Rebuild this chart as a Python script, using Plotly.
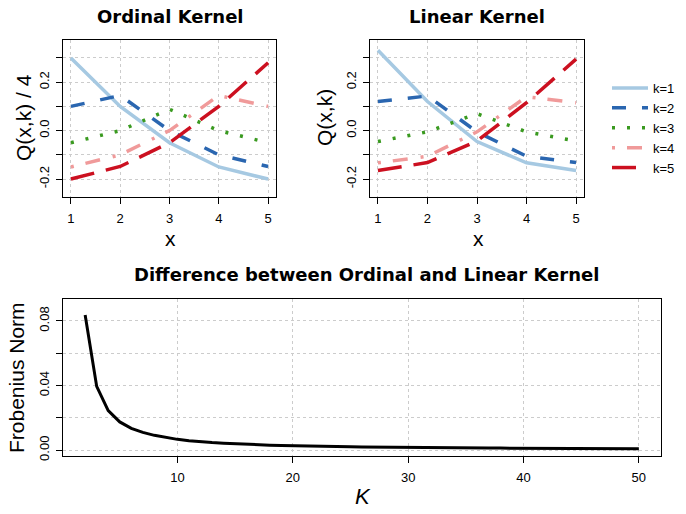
import plotly.graph_objects as go

# values
x_pos = [1, 2, 3, 4, 5]
labels = ['k=1', 'k=2', 'k=3', 'k=4', 'k=5']

ord_k1 = [0.30, 0.10, -0.05, -0.15, -0.20]
ord_k2 = [0.10, 0.145, 0.0, -0.10, -0.148]
ord_k3 = [-0.05, 0.0, 0.088, 0.0, -0.05]
ord_k4 = [-0.15, -0.10, 0.0, 0.145, 0.10]
ord_k5 = [-0.20, -0.148, -0.05, 0.10, 0.28]

lin_k1 = [0.332, 0.12, -0.045, -0.133, -0.165]
lin_k2 = [0.12, 0.143, -0.005, -0.106, -0.132]
lin_k3 = [-0.045, -0.005, 0.07, -0.005, -0.043]
lin_k4 = [-0.133, -0.106, -0.005, 0.14, 0.115]
lin_k5 = [-0.165, -0.132, -0.043, 0.115, 0.295]

K_vals = list(range(2, 51))
frob = [0.0837, 0.0395, 0.0245, 0.0175, 0.0135, 0.0110, 0.0092, 0.0078, 0.0067,
        0.0059, 0.0052, 0.0047, 0.0043, 0.0039, 0.0036, 0.0033, 0.0031, 0.0029,
        0.0027, 0.0026, 0.0024, 0.0023, 0.0022, 0.0021, 0.0020, 0.0019, 0.0018,
        0.0018, 0.0017, 0.0016, 0.0016, 0.0015, 0.0015, 0.0014, 0.0014, 0.0013,
        0.0013, 0.0013, 0.0012, 0.0012, 0.0012, 0.0011, 0.0011, 0.0011, 0.0010,
        0.0010, 0.0010, 0.0010, 0.0009]

colors = ['#a6c9e2', '#2a66b0', '#3a9a20', '#f09a9a', '#cc1020']
dashes = ['solid', '14px,16px', '3px,12px', '3px,12px,15px,13px', '24px,12px']

W, H = 686, 514
FONT = 'Liberation Sans'
TFONT = 'DejaVu Sans'


def px_x(p):
    return p / W


def px_y(p):
    return 1 - p / H


fig = go.Figure()

ordinal = [ord_k1, ord_k2, ord_k3, ord_k4, ord_k5]
linear = [lin_k1, lin_k2, lin_k3, lin_k4, lin_k5]
for i in range(5):
    fig.add_trace(go.Scatter(x=x_pos, y=ordinal[i], mode='lines', name=labels[i],
                             line=dict(color=colors[i], width=3.5, dash=dashes[i]),
                             xaxis='x', yaxis='y', showlegend=False))
for i in range(5):
    fig.add_trace(go.Scatter(x=x_pos, y=linear[i], mode='lines', name=labels[i],
                             line=dict(color=colors[i], width=3.5, dash=dashes[i]),
                             xaxis='x2', yaxis='y2', showlegend=True))
fig.add_trace(go.Scatter(x=K_vals, y=frob, mode='lines', line=dict(color='black', width=3),
                         xaxis='x3', yaxis='y3', showlegend=False))

ax_common = dict(showline=True, mirror=True, linecolor='black', linewidth=1,
                 ticks='outside', ticklen=6, tickcolor='black', zeroline=False,
                 showgrid=True, gridcolor='#cccccc', griddash='dot', gridwidth=1,
                 tickfont=dict(family=FONT, size=13, color='black'), automargin=False)

q_ticks = [-0.2, -0.1, 0.0, 0.1, 0.2, 0.3]
q_text = ['-0.2', '', '0.0', '', '0.2', '']

top_y = [px_y(197), px_y(40)]
bot_y = [px_y(456), px_y(299)]

fig.update_layout(
    width=W, height=H,
    margin=dict(l=0, r=0, t=0, b=0),
    paper_bgcolor='white', plot_bgcolor='white',
    font=dict(family=FONT, color='black'),
    xaxis=dict(domain=[px_x(63), px_x(276)], range=[0.84, 5.16], anchor='y',
               tickvals=x_pos, ticklabelstandoff=3, **ax_common),
    yaxis=dict(domain=top_y, range=[-0.274, 0.374], anchor='x', tickvals=q_ticks,
               ticktext=q_text, tickangle=-90, ticklabelstandoff=2, **ax_common),
    xaxis2=dict(domain=[px_x(370), px_x(584)], range=[0.84, 5.16], anchor='y2',
                tickvals=x_pos, ticklabelstandoff=3, **ax_common),
    yaxis2=dict(domain=top_y, range=[-0.274, 0.374], anchor='x2', tickvals=q_ticks,
                ticktext=q_text, tickangle=-90, ticklabelstandoff=2, **ax_common),
    xaxis3=dict(domain=[px_x(63), px_x(661)], range=[0.08, 51.92], anchor='y3',
                tickvals=[10, 20, 30, 40, 50], ticklabelstandoff=3, **ax_common),
    yaxis3=dict(domain=bot_y, range=[-0.0036, 0.0936], anchor='x3',
                tickvals=[0.0, 0.02, 0.04, 0.06, 0.08],
                ticktext=['0.00', '', '0.04', '', '0.08'],
                tickangle=-90, ticklabelstandoff=2, **ax_common),
    legend=dict(x=px_x(607), y=px_y(73), xanchor='left', yanchor='top',
                font=dict(family=FONT, size=13, color='black'), itemwidth=36,
                bgcolor='rgba(0,0,0,0)', tracegroupgap=0),
)

ann = [
    ('<b>Ordinal Kernel</b>', 170, 16, 18, 0, TFONT),
    ('<b>Linear Kernel</b>', 477, 16, 18, 0, TFONT),
    ('<b>Difference between Ordinal and Linear Kernel</b>', 366, 274, 18, 0, TFONT),
    ('Q(x,k) / 4', 24, 118, 21, -90, FONT),
    ('Q(x,k)', 325, 118, 21, -90, FONT),
    ('Frobenius Norm', 16, 378, 21, -90, FONT),
    ('x', 170, 238, 21, 0, FONT),
    ('x', 478, 238, 21, 0, FONT),
    ('<i>K</i>', 363, 496, 22, 0, FONT),
]
for text, ax, ay, size, ang, fam in ann:
    fig.add_annotation(text=text, x=px_x(ax), y=px_y(ay), xref='paper', yref='paper',
                       showarrow=False, textangle=ang, xanchor='center', yanchor='middle',
                       font=dict(family=fam, size=size, color='black'))

# drop the page's default body margin so the figure fills the window
fig.write_html("out.html", config={'displayModeBar': False},
               post_script="document.body.style.margin='0px';")
